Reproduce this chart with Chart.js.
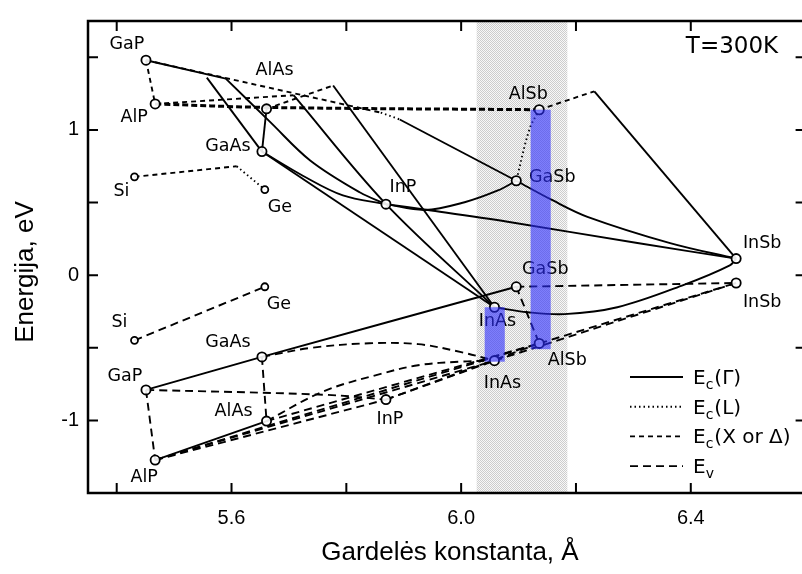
<!DOCTYPE html>
<html>
<head>
<meta charset="utf-8">
<script src="https://cdn.jsdelivr.net/npm/chart.js@4.4.1/dist/chart.umd.min.js"></script>
<style>
  html, body { margin: 0; padding: 0; background: #fff; overflow: hidden; width: 802px; height: 574px; }
  #wrap { position: relative; width: 812px; height: 574px; }
</style>
</head>
<body>
<div id="wrap"><canvas id="c" width="812" height="574"></canvas></div>
<script>
// Binary compounds: lattice constant (Å), conduction-band minimum and valence-band maximum (eV)
const compounds = ['GaP', 'AlP', 'AlAs', 'GaAs', 'Si', 'Ge', 'InP', 'AlSb', 'GaSb', 'InSb', 'InAs'];
const latticeA  = [5.451, 5.467, 5.661, 5.653, 5.431, 5.658, 5.869, 6.136, 6.096, 6.479, 6.058];
const ecMin     = [1.480, 1.179, 1.145, 0.851, 0.677, 0.589, 0.489, 1.139, 0.650, 0.114, -0.221];
const evMax     = [-0.790, -1.273, -1.005, -0.563, -0.449, -0.080, -0.857, -0.470, -0.080, -0.054, -0.589];

// Alloy paths [a, E] grouped by band type
const ecGammaPaths = [
  [[5.451, 1.480], [5.590, 1.353]],
  [[5.557, 1.360], [5.653, 0.851]],
  [[5.590, 1.353], [5.668, 1.052], [5.737, 0.790], [5.824, 0.569], [5.869, 0.489]],
  [[5.653, 0.851], [5.725, 0.683], [5.794, 0.549], [5.869, 0.489]],
  [[5.653, 0.851], [6.058, -0.221]],
  [[5.708, 1.239], [5.869, 0.489], [6.058, -0.221]],
  [[5.777, 1.306], [6.058, -0.221]],
  [[5.893, 1.072], [6.096, 0.650]],
  [[5.869, 0.489], [5.937, 0.449], [6.006, 0.502], [6.064, 0.583], [6.096, 0.650]],
  [[5.869, 0.489], [5.942, 0.449], [6.081, 0.368], [6.307, 0.221], [6.479, 0.114]],
  [[6.096, 0.650], [6.159, 0.516], [6.220, 0.402], [6.364, 0.221], [6.479, 0.114]],
  [[6.232, 1.266], [6.479, 0.114]],
  [[6.058, -0.221], [6.116, -0.255], [6.180, -0.268], [6.272, -0.221], [6.388, -0.067], [6.468, 0.067], [6.479, 0.114]],
  [[5.661, 1.145], [5.653, 0.851]]
];
const ecLPaths = [
  [[5.860, 1.119], [5.893, 1.072]],
  [[6.136, 1.139], [6.119, 1.005], [6.096, 0.650]],
  [[5.609, 0.750], [5.658, 0.589]]
];
const ecXPaths = [
  [[5.451, 1.480], [5.467, 1.179]],
  [[5.467, 1.179], [5.708, 1.239]],
  [[5.661, 1.145], [5.777, 1.306]],
  [[5.451, 1.480], [5.860, 1.119]],
  [[6.136, 1.139], [6.232, 1.266]],
  [[5.431, 0.677], [5.609, 0.750]]
];
const ecXHeavyPath = [[5.467, 1.179], [5.661, 1.155], [6.136, 1.139]];
const evSolidPaths = [
  [[5.451, -0.790], [5.653, -0.563], [6.096, -0.080]],
  [[5.467, -1.273], [5.661, -1.005]]
];
const evPaths = [
  [[5.431, -0.449], [5.658, -0.080]],
  [[5.451, -0.790], [5.467, -1.273]],
  [[5.653, -0.563], [5.661, -1.005]],
  [[5.451, -0.790], [5.765, -0.824], [5.869, -0.857]],
  [[5.467, -1.273], [5.869, -0.857]],
  [[5.467, -1.273], [6.058, -0.589]],
  [[5.467, -1.273], [6.136, -0.470]],
  [[5.661, -1.005], [6.136, -0.470]],
  [[5.661, -1.005], [5.760, -0.800], [5.860, -0.680], [5.925, -0.620], [6.000, -0.595], [6.058, -0.589]],
  [[5.653, -0.563], [5.740, -0.500], [5.840, -0.469], [5.925, -0.475], [6.000, -0.530], [6.058, -0.589]],
  [[5.869, -0.857], [6.058, -0.589]],
  [[5.869, -0.857], [6.136, -0.470]],
  [[6.096, -0.080], [6.136, -0.470]],
  [[6.096, -0.080], [6.479, -0.054]],
  [[6.058, -0.589], [6.479, -0.054]],
  [[6.136, -0.470], [6.479, -0.054]]
];

// Highlighted regions
const shadeRange = [6.027, 6.185];
const gapLeft   = [6.041, 6.121];
const gapRight  = [6.076, 6.156];
const gapBottom = [-0.596, -0.510];
const gapTop    = [-0.221, 1.139];

// Axis ticks
const xTickLabels = [5.6, 6.0, 6.4];
const yTickLabels = [-1, 0, 1];
const xTickMarks = [5.4, 5.6, 5.8, 6.0, 6.2, 6.4];
const yTickMarks = [-1.5, -1, -0.5, 0, 0.5, 1, 1.5];

// Label placement around markers (px)
const ecLabelOffset = [[-19,-16],[-21,14],[8,-38],[-34,-5],[-13,15],[15,18],[17,-17],[-11,-15],[36,-3],[26,-15],[3,14]];
const evLabelOffset = [[-21,-13],[-11,17],[-33,-10],[-34,-14],[-15,-18],[14,18],[4,20],[28,17],[29,-17],[26,19],[8,23]];

const LABEL_FONT = '"DejaVu Sans", "Noto Sans", sans-serif';
const AXIS_FONT = '"Liberation Sans", Arial, sans-serif';
const LW = 1.9;

function toPts(path) { return path.map(([x, y]) => ({ x, y })); }
function lineSet(path, dash, width) {
  return {
    data: toPts(path), showLine: true, borderColor: '#000', borderWidth: width,
    borderDash: dash, pointRadius: 0, pointHoverRadius: 0, fill: false,
    tension: path.length > 2 ? 0.35 : 0, order: 1
  };
}

const markerPts = [];
const markerRadius = [];
compounds.forEach((c, i) => {
  const r = (c === 'Si' || c === 'Ge') ? 3.5 : 4.6;
  markerPts.push({ x: latticeA[i], y: ecMin[i] }); markerRadius.push(r);
  markerPts.push({ x: latticeA[i], y: evMax[i] }); markerRadius.push(r);
});

const datasets = [{
  data: markerPts, showLine: false, pointRadius: markerRadius, pointHoverRadius: markerRadius,
  pointBackgroundColor: 'rgba(255,255,255,0.9)', pointBorderColor: '#000', pointBorderWidth: 1.8, order: 0
}];
ecGammaPaths.forEach(p => datasets.push(lineSet(p, [], LW)));
ecLPaths.forEach(p => datasets.push(lineSet(p, [1.5, 3], LW)));
ecXPaths.forEach(p => datasets.push(lineSet(p, [5, 4], LW)));
datasets.push(lineSet(ecXHeavyPath, [6, 3], 3));
evSolidPaths.forEach(p => datasets.push(lineSet(p, [], LW)));
evPaths.forEach(p => datasets.push(lineSet(p, [8, 5], LW)));

// light stipple for the shaded lattice window
const pc = document.createElement('canvas');
pc.width = 2; pc.height = 2;
const pctx = pc.getContext('2d');
pctx.fillStyle = '#f8f8f8'; pctx.fillRect(0, 0, 2, 2);
pctx.fillStyle = '#cdcdcd'; pctx.fillRect(0, 0, 1, 1); pctx.fillRect(1, 1, 1, 1);

const decor = {
  id: 'decor',
  beforeDatasetsDraw(chart) {
    const { ctx, chartArea: a, scales: { x } } = chart;
    ctx.save();
    ctx.fillStyle = ctx.createPattern(pc, 'repeat');
    const x0 = x.getPixelForValue(shadeRange[0]), x1 = x.getPixelForValue(shadeRange[1]);
    ctx.fillRect(x0, a.top, x1 - x0, a.bottom - a.top);
    ctx.restore();
  },
  afterDatasetsDraw(chart) {
    const { ctx, chartArea: a, scales: { x, y } } = chart;
    ctx.save();
    // compound labels
    ctx.fillStyle = '#000';
    ctx.font = '17.5px ' + LABEL_FONT;
    ctx.textAlign = 'center';
    ctx.textBaseline = 'middle';
    compounds.forEach((c, i) => {
      const px = x.getPixelForValue(latticeA[i]);
      ctx.fillText(c, px + ecLabelOffset[i][0], y.getPixelForValue(ecMin[i]) + ecLabelOffset[i][1]);
      ctx.fillText(c, px + evLabelOffset[i][0], y.getPixelForValue(evMax[i]) + evLabelOffset[i][1]);
    });
    ctx.font = '23px ' + LABEL_FONT;
    ctx.fillText('T=300K', 732, 47);

    // band-gap bars
    ctx.fillStyle = 'rgba(45,45,255,0.6)';
    for (let i = 0; i < gapLeft.length; i++) {
      const l = x.getPixelForValue(gapLeft[i]), r = x.getPixelForValue(gapRight[i]);
      const t = y.getPixelForValue(gapTop[i]), b = y.getPixelForValue(gapBottom[i]);
      ctx.fillRect(l, t, r - l, b - t);
    }

    // legend
    const rows = [
      { dash: [], tail: '(Γ)', sub: 'c' },
      { dash: [1.5, 3], tail: '(L)', sub: 'c' },
      { dash: [5, 4], tail: '(X or Δ)', sub: 'c' },
      { dash: [8, 5], tail: '', sub: 'v' }
    ];
    rows.forEach((r, k) => {
      const yy = 377 + k * 29.7;
      ctx.strokeStyle = '#000'; ctx.lineWidth = LW; ctx.setLineDash(r.dash);
      ctx.beginPath(); ctx.moveTo(630, yy); ctx.lineTo(683, yy); ctx.stroke();
      ctx.setLineDash([]);
      ctx.fillStyle = '#000'; ctx.textAlign = 'left'; ctx.textBaseline = 'alphabetic';
      ctx.font = '20px ' + LABEL_FONT;
      ctx.fillText('E', 693, yy + 7);
      let w = ctx.measureText('E').width;
      ctx.font = '14px ' + LABEL_FONT;
      ctx.fillText(r.sub, 693 + w, yy + 12);
      w += ctx.measureText(r.sub).width;
      ctx.font = '20px ' + LABEL_FONT;
      ctx.fillText(r.tail, 693 + w + 1, yy + 7);
    });

    // frame and inward ticks
    ctx.strokeStyle = '#000'; ctx.lineWidth = 2.5; ctx.setLineDash([]);
    ctx.strokeRect(a.left, a.top, a.right - a.left, a.bottom - a.top);
    ctx.lineWidth = 2;
    ctx.beginPath();
    xTickMarks.forEach(v => {
      const px = x.getPixelForValue(v);
      ctx.moveTo(px, a.bottom); ctx.lineTo(px, a.bottom - 10);
      ctx.moveTo(px, a.top); ctx.lineTo(px, a.top + 10);
    });
    yTickMarks.forEach(v => {
      const py = y.getPixelForValue(v);
      ctx.moveTo(a.left, py); ctx.lineTo(a.left + 10, py);
      ctx.moveTo(a.right, py); ctx.lineTo(a.right - 10, py);
    });
    ctx.stroke();

    // axis titles
    ctx.fillStyle = '#000';
    ctx.font = '26px ' + AXIS_FONT;
    ctx.textAlign = 'center'; ctx.textBaseline = 'middle';
    ctx.fillText('Gardelės konstanta, Å', 450, 553);
    ctx.translate(26, 272);
    ctx.rotate(-Math.PI / 2);
    ctx.fillText('Energija, eV', 0, 0);
    ctx.restore();
  }
};

new Chart(document.getElementById('c'), {
  type: 'scatter',
  data: { datasets },
  options: {
    responsive: false,
    devicePixelRatio: 1,
    animation: false,
    events: [],
    layout: { padding: { top: 8, right: 4, left: 0, bottom: 0 } },
    plugins: { legend: { display: false }, tooltip: { enabled: false } },
    scales: {
      x: {
        type: 'linear', min: 5.35, max: 6.6,
        grid: { display: false, drawTicks: false }, border: { display: false },
        afterBuildTicks(s) { s.ticks = xTickLabels.map(v => ({ value: v })); },
        afterFit(s) { s.height = 81; },
        ticks: { color: '#000', padding: 13, font: { family: AXIS_FONT, size: 20 }, callback: v => v.toFixed(1) }
      },
      y: {
        type: 'linear', min: -1.5, max: 1.75,
        grid: { display: false, drawTicks: false }, border: { display: false },
        afterBuildTicks(s) { s.ticks = yTickLabels.map(v => ({ value: v })); },
        afterFit(s) { s.width = 88; },
        ticks: { color: '#000', padding: 9, font: { family: AXIS_FONT, size: 20 }, callback: v => String(v) }
      }
    }
  },
  plugins: [decor]
});
</script>
</body>
</html>
